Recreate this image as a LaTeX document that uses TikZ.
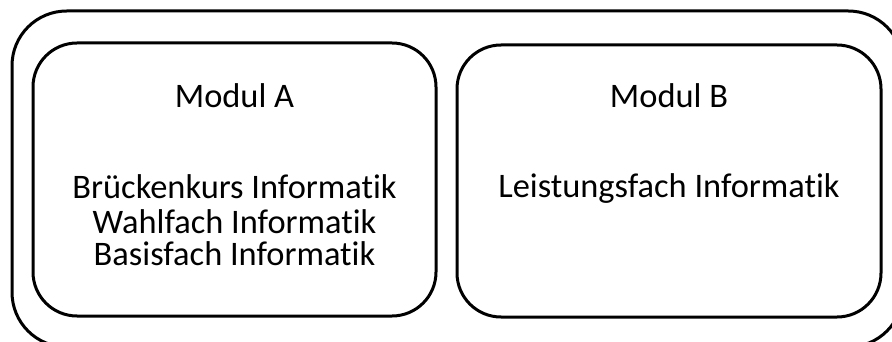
\documentclass[tikz,border=0pt]{standalone}
\usepackage{fontspec}
\setmainfont{Carlito}[Ligatures=NoCommon]
\usetikzlibrary{positioning}
\tikzset{
  outerbox/.style={line width=2.25pt, rounded corners=41pt},
  modbox/.style={line width=2.25pt, rounded corners=33pt},
  lbl/.style={anchor=base, inner sep=0pt, font=\fontsize{25.8}{24}\selectfont},
}
\begin{document}
\begin{tikzpicture}[x=0.75pt,y=-0.75pt]
\useasboundingbox (0,0) rectangle (892,342);
\clip (0,0) rectangle (892,342);
% frame and the two modules
\draw[outerbox] (12,11) rectangle (903,347);
\draw[modbox] (33,43) rectangle (436,316);
\draw[modbox] (457,45) rectangle (881,317);
% Modul A
\node[lbl] (titA) at (234.5,108) {Modul A};
\node[lbl] (kursA) at (234.5,199) {Brückenkurs Informatik};
\node[lbl] (wahlA) at (234.5,233) {Wahlfach Informatik};
\node[lbl] (basisA) at (234.5,265) {Basisfach Informatik};
% Modul B
\node[lbl] (titB) at (669,108) {Modul B};
\node[lbl] (leistB) at (669,198) {Leistungsfach Informatik};
\end{tikzpicture}
\end{document}
